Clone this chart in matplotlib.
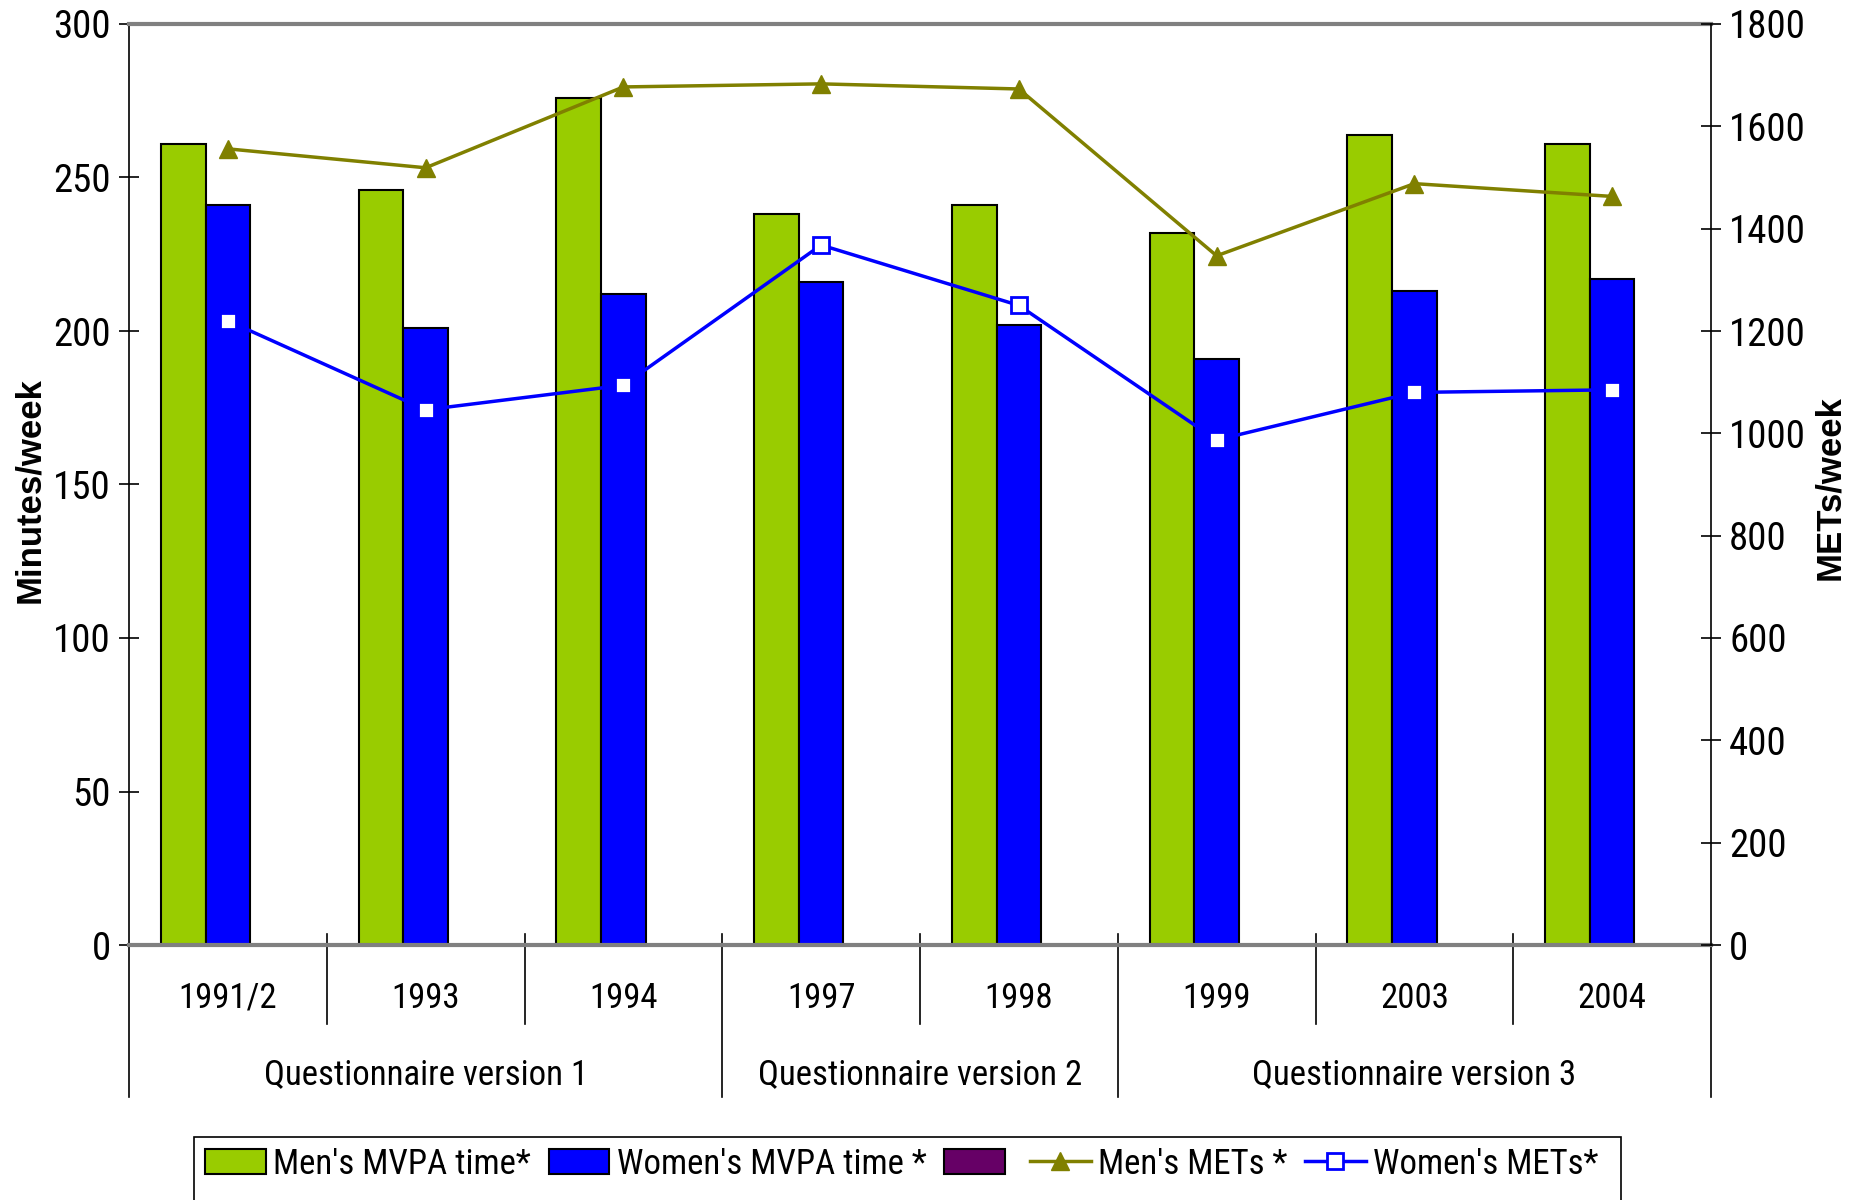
import numpy as np
import matplotlib.pyplot as plt
from matplotlib import font_manager
from matplotlib.patches import Patch, Rectangle
from matplotlib.lines import Line2D

# pick a narrow sans if one is installed
installed = {f.name for f in font_manager.fontManager.ttflist}
narrow = [n for n in ['Liberation Sans Narrow', 'Roboto Condensed', 'Open Sans Condensed',
                      'DejaVu Sans Condensed', 'Noto Sans Condensed'] if n in installed]
plt.rcParams['font.family'] = narrow[:1] + ['Liberation Sans', 'DejaVu Sans']
if not narrow:
    plt.rcParams['font.stretch'] = 'condensed'

# Survey years and questionnaire groups
years = ['1991/2', '1993', '1994', '1997', '1998', '1999', '2003', '2004']
groups = ['Questionnaire version 1', 'Questionnaire version 2', 'Questionnaire version 3']
group_spans = [(0, 2), (3, 4), (5, 7)]

# Minutes/week (left axis)
men_mvpa = [261, 246, 276, 238, 241, 232, 264, 261]
women_mvpa = [241, 201, 212, 216, 202, 191, 213, 217]

# METs/week (right axis)
men_mets = [1556, 1519, 1677, 1683, 1673, 1347, 1488, 1463]
women_mets = [1220, 1046, 1094, 1368, 1250, 987, 1080, 1085]

green = '#99CC00'
blue = '#0000FF'
olive = '#808000'
purple = '#660066'

W, H = 1866, 1200
fig = plt.figure(figsize=(W / 100, H / 100), dpi=100)
ax = fig.add_axes([129 / W, 1 - 945 / H, (1711 - 129) / W, (945 - 24) / H])

x = np.arange(len(years))
w = 0.226
ax.bar(x - w, men_mvpa, w, color=green, edgecolor='black', linewidth=1.5, zorder=2)
ax.bar(x, women_mvpa, w, color=blue, edgecolor='black', linewidth=1.5, zorder=2)

ax.set_xlim(-0.5, len(years) - 0.5)
ax.set_ylim(0, 300)
ax.set_yticks(np.arange(0, 301, 50))
ax.tick_params(axis='x', bottom=False, labelbottom=False)
ax.tick_params(axis='y', direction='inout', length=14, width=1.2, labelsize=28, pad=6)

ax2 = ax.twinx()
ax2.plot(x, men_mets, color=olive, lw=2.5, marker='^', ms=13, zorder=3)
ax2.plot(x, women_mets, color=blue, lw=2.5, marker='s', ms=12,
         mfc='white', mec=blue, mew=2, zorder=3)
ax2.set_ylim(0, 1800)
ax2.set_yticks(np.arange(0, 1801, 200))
ax2.tick_params(axis='y', direction='inout', length=14, width=1.2, labelsize=28, pad=6)

# Spines
for s in ['top', 'bottom']:
    ax.spines[s].set_color('#808080')
    ax.spines[s].set_linewidth(3)
ax.spines['left'].set_linewidth(1.2)
ax.spines['right'].set_visible(False)
for s in ['top', 'bottom', 'left']:
    ax2.spines[s].set_visible(False)
ax2.spines['right'].set_linewidth(1.2)

# Category separators and labels below the axis
tr = ax.get_xaxis_transform()
long_marks = [-0.5, 2.5, 4.5, 7.5]
for b in np.arange(-0.5, len(years)):
    if b in long_marks:
        top = 0.0 if b in (-0.5, 7.5) else 0.012
        ax.plot([b, b], [top, -0.165], transform=tr, color='black', lw=1.2, clip_on=False)
    else:
        ax.plot([b, b], [0.012, -0.0858], transform=tr, color='black', lw=1.2, clip_on=False)

for i, yr in enumerate(years):
    ax.text(i, -0.058, yr, transform=tr, ha='center', va='center', fontsize=25)
for g, (a, b) in zip(groups, group_spans):
    ax.text((a + b) / 2, -0.141, g, transform=tr, ha='center', va='center', fontsize=25)

# Axis titles
fig.text(30 / W, 1 - 490 / H, 'Minutes/week', rotation=90, ha='center', va='center',
         fontsize=25, fontweight='bold', family=['Liberation Sans', 'DejaVu Sans'])
fig.text(1830 / W, 1 - 488 / H, 'METs/week', rotation=90, ha='center', va='center',
         fontsize=25, fontweight='bold', family=['Liberation Sans', 'DejaVu Sans'])

# Legend
handles = [
    Patch(facecolor=green, edgecolor='black', linewidth=1.5),
    Patch(facecolor=blue, edgecolor='black', linewidth=1.5),
    Patch(facecolor=purple, edgecolor='black', linewidth=1.5),
    Line2D([], [], color=olive, lw=2.5, marker='^', ms=13),
    Line2D([], [], color=blue, lw=2.5, marker='s', ms=12, mfc='white', mec=blue, mew=2),
]
labels = ["Men's MVPA time*", "Women's MVPA time *", "", "Men's METs *", "Women's METs*"]
fig.legend(handles, labels, ncol=5, frameon=False, loc='center left',
           bbox_to_anchor=(205 / W, 1 - 1164 / H), bbox_transform=fig.transFigure,
           fontsize=25, borderpad=0, borderaxespad=0, handlelength=1.75,
           handletextpad=0.22, columnspacing=0.5)
fig.add_artist(Rectangle((194 / W, -0.02), (1621 - 194) / W, (1 - 1137 / H) + 0.02,
                         transform=fig.transFigure, fill=False, edgecolor='black', lw=1.2))

plt.savefig('out.png', dpi=100)
